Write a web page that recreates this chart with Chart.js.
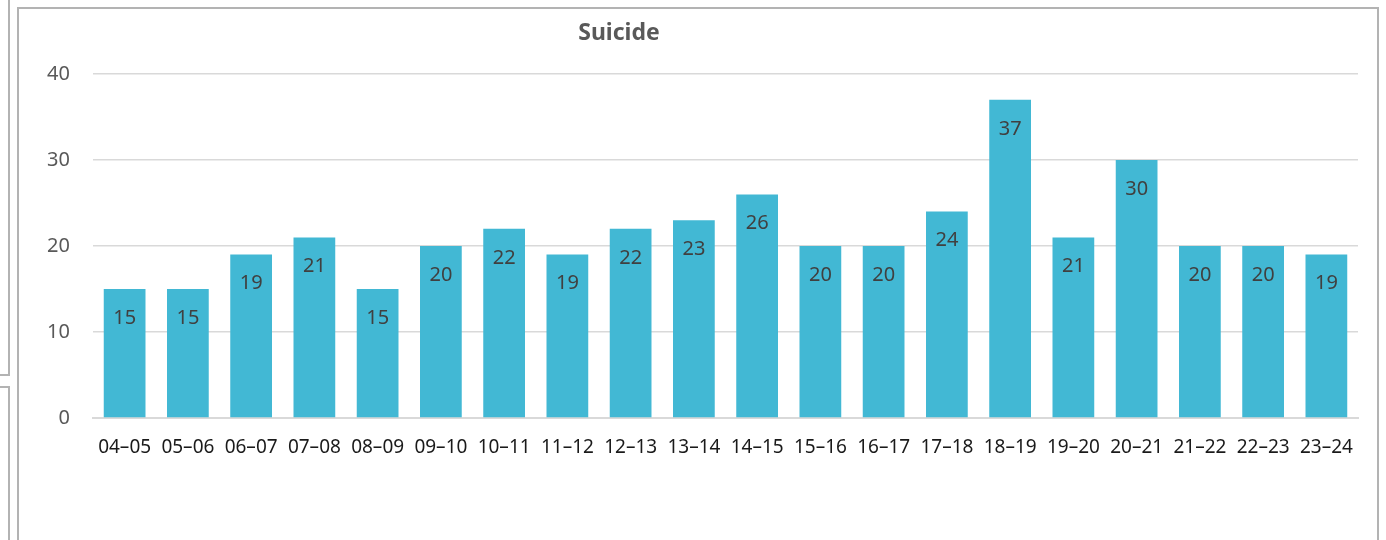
<!DOCTYPE html>
<html>
<head>
<meta charset="utf-8">
<script src="https://cdn.jsdelivr.net/npm/chart.js@4"></script>
<style>
  html, body { margin: 0; padding: 0; background: #fff; overflow: hidden; }
  body { width: 1386px; height: 540px; position: relative; }
  .frame { position: absolute; border: 2px solid #b3b3b3; box-sizing: border-box; }
  #wrap { position: absolute; left: 0; top: 0; width: 1386px; height: 540px; }
</style>
</head>
<body>
<!-- sheet frames behind the chart -->
<div class="frame" style="left:-20px; top:-10px; width:30px; height:386px;"></div>
<div class="frame" style="left:-20px; top:386px; width:30px; height:300px;"></div>
<div class="frame" style="left:17px; top:7px; width:1362px; height:600px;"></div>
<div id="wrap"><canvas id="suicideChart"></canvas></div>
<script>
// ---- data ----
const years = ['04–05', '05–06', '06–07', '07–08', '08–09', '09–10', '10–11', '11–12', '12–13', '13–14',
               '14–15', '15–16', '16–17', '17–18', '18–19', '19–20', '20–21', '21–22', '22–23', '23–24'];
const suicides = [15, 15, 19, 21, 15, 20, 22, 19, 22, 23, 26, 20, 20, 24, 37, 21, 30, 20, 20, 19];
const yTicks = [0, 10, 20, 30, 40];

const FONT = '"Noto Sans", "Open Sans", sans-serif';

// bar values written just inside the top of each bar
const valueLabels = {
    id: 'valueLabels',
    afterDatasetsDraw(chart) {
        const ctx = chart.ctx;
        const meta = chart.getDatasetMeta(0);
        ctx.save();
        ctx.font = '20px ' + FONT;
        ctx.fillStyle = '#404040';
        ctx.textAlign = 'center';
        ctx.textBaseline = 'middle';
        meta.data.forEach((bar, i) => {
            ctx.fillText(String(chart.data.datasets[0].data[i]), bar.x, bar.y + 29);
        });
        ctx.restore();
    }
};

// title sits a bit left of centre, as in the source sheet
const sheetTitle = {
    id: 'sheetTitle',
    afterDraw(chart) {
        const ctx = chart.ctx;
        ctx.save();
        ctx.font = 'bold 23px ' + FONT;
        ctx.fillStyle = '#595959';
        ctx.textAlign = 'center';
        ctx.textBaseline = 'middle';
        ctx.fillText('Suicide', 619, 33);
        ctx.restore();
    }
};

new Chart(document.getElementById('suicideChart'), {
    type: 'bar',
    data: {
        labels: years,
        datasets: [{
            label: 'Suicide',
            data: suicides,
            backgroundColor: '#42B8D4',
            borderWidth: 0,
            categoryPercentage: 1,
            barPercentage: 0.66
        }]
    },
    options: {
        responsive: true,
        maintainAspectRatio: false,
        animation: false,
        layout: { padding: { left: 0, right: 28, top: 74, bottom: 82 } },
        plugins: {
            legend: { display: false },
            title: { display: false },
            tooltip: { enabled: false }
        },
        scales: {
            x: {
                grid: { display: false, drawTicks: false },
                border: { display: true, color: '#d9d9d9', width: 2 },
                ticks: {
                    color: '#1a1a1a',
                    font: { family: FONT, size: 19 },
                    padding: 18,
                    maxRotation: 0,
                    autoSkip: false
                },
                afterFit(scale) { scale.height = 40; }
            },
            y: {
                min: 0,
                max: 40,
                afterBuildTicks(scale) { scale.ticks = yTicks.map(v => ({ value: v })); },
                grid: { color: '#d9d9d9', lineWidth: 1.5, drawTicks: false },
                border: { display: false },
                ticks: {
                    color: '#595959',
                    font: { family: FONT, size: 20 },
                    padding: 23
                },
                afterFit(scale) { scale.width = 93; }
            }
        }
    },
    plugins: [valueLabels, sheetTitle]
});
</script>
</body>
</html>
